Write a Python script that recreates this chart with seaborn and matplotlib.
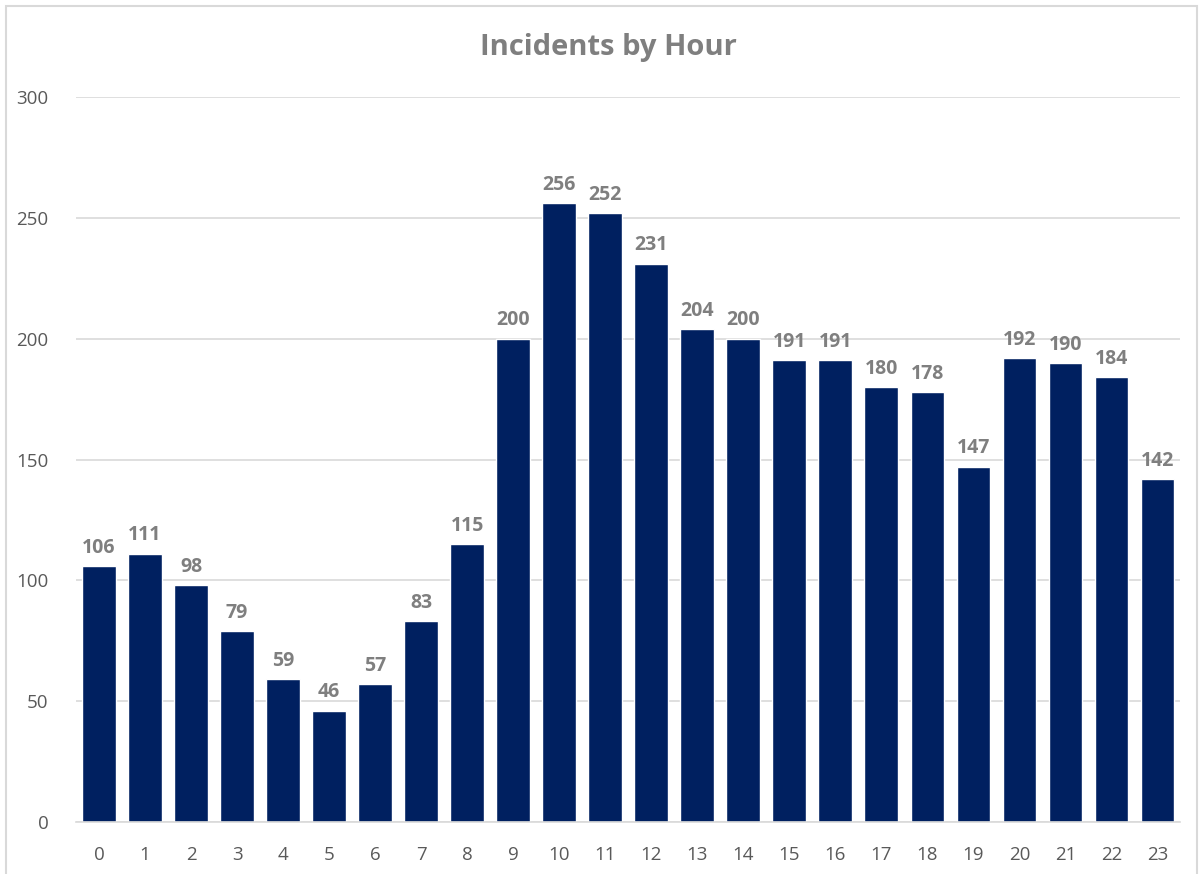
import matplotlib
matplotlib.use("Agg")
import matplotlib.pyplot as plt
import seaborn as sns
import pandas as pd
from matplotlib.patches import Rectangle

hours = [str(h) for h in range(24)]
incidents = [106, 111, 98, 79, 59, 46, 57, 83, 115, 200, 256, 252, 231, 204, 200,
             191, 191, 180, 178, 147, 192, 190, 184, 142]
yticks = [0, 50, 100, 150, 200, 250, 300]
title = "Incidents by Hour"

sns.set_theme(style="white")
plt.rcParams['font.family'] = ['Open Sans', 'DejaVu Sans']

df = pd.DataFrame({"hour": hours, "incidents": incidents})

fig = plt.figure(figsize=(12.03, 8.74), dpi=100)
ax = fig.add_axes([0.0632, 0.0595, 0.918, 0.8295])

sns.barplot(data=df, x="hour", y="incidents", color="#002060", saturation=1,
            width=0.73, ax=ax, order=hours)

ax.set_ylim(0, 300)
ax.set_xlim(-0.5, 23.5)
ax.set_yticks(yticks)
ax.set_yticklabels([str(t) for t in yticks])
ax.yaxis.grid(True, color="#d9d9d9", linewidth=1.2)
ax.set_axisbelow(True)
for s in ["top", "right", "left"]:
    ax.spines[s].set_visible(False)
ax.spines["bottom"].set_color("#d9d9d9")
ax.spines["bottom"].set_linewidth(1.2)
ax.tick_params(axis="both", length=0, labelsize=13.5, colors="#595959")
ax.tick_params(axis="y", pad=20)
ax.tick_params(axis="x", pad=17)
ax.set_xlabel("")
ax.set_ylabel("")

for c in ax.containers:
    ax.bar_label(c, labels=[str(v) for v in incidents], padding=6,
                 fontsize=14, fontweight="bold", color="#7f7f7f")

fig.text(0.506, 0.946, title, ha="center", va="center", fontsize=21,
         fontweight="bold", color="#7f7f7f")

fig.patches.append(Rectangle((0.005, -0.01), 0.99, 1.003, transform=fig.transFigure,
                             fill=False, edgecolor="#d9d9d9", linewidth=1.5))

fig.savefig("out.png", dpi=100)
